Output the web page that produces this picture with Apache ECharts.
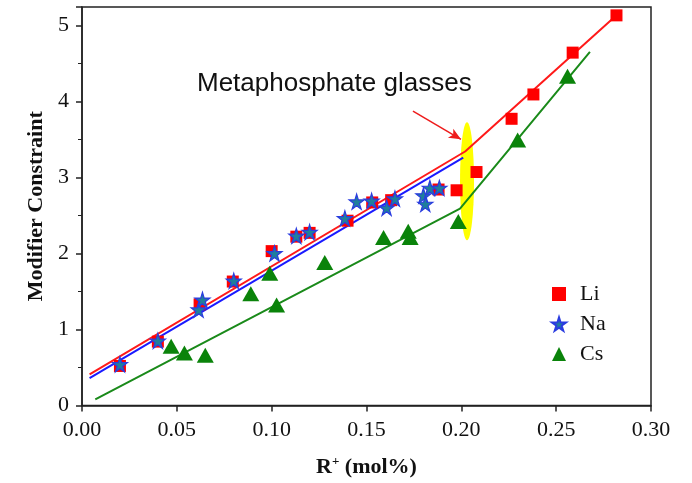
<!DOCTYPE html>
<html>
<head>
<meta charset="utf-8">
<script src="https://cdn.jsdelivr.net/npm/echarts@6/dist/echarts.min.js"></script>
<style>html,body{margin:0;padding:0;background:#fff}#c{width:692px;height:483px}</style>
</head>
<body>
<div id="c"></div>
<script>
// ---- data ----
var xTicks = [0, 0.05, 0.10, 0.15, 0.20, 0.25, 0.30];
var yTicks = [0, 1, 2, 3, 4, 5];

var liX = [0.020, 0.040, 0.062, 0.0795, 0.100, 0.113, 0.120, 0.140, 0.153, 0.163, 0.188, 0.1975, 0.208, 0.2265, 0.238, 0.2587, 0.2818];
var liY = [0.52, 0.84, 1.33, 1.63, 2.03, 2.22, 2.27, 2.43, 2.67, 2.70, 2.84, 2.83, 3.07, 3.77, 4.09, 4.64, 5.13];

var naX = [0.020, 0.040, 0.0615, 0.0635, 0.080, 0.1015, 0.113, 0.120, 0.1386, 0.1448, 0.1527, 0.1606, 0.165, 0.180, 0.181, 0.1834, 0.1884];
var naY = [0.54, 0.85, 1.26, 1.39, 1.64, 2.00, 2.23, 2.28, 2.46, 2.68, 2.69, 2.60, 2.72, 2.76, 2.65, 2.86, 2.86];

var csX = [0.047, 0.054, 0.065, 0.089, 0.099, 0.1026, 0.128, 0.159, 0.172, 0.173, 0.1984, 0.2297, 0.256];
var csY = [0.78, 0.69, 0.66, 1.47, 1.74, 1.32, 1.88, 2.21, 2.29, 2.21, 2.42, 3.49, 4.33];

// fitted lines
var liFitX = [0.004, 0.202, 0.2818];
var liFitY = [0.41, 3.34, 5.13];
var naFitX = [0.004, 0.201];
var naFitY = [0.36, 3.26];
var csFitX = [0.007, 0.1993, 0.2678];
var csFitY = [0.08, 2.59, 4.65];

// annotation
var ellipseX = [0.203];
var ellipseY = [2.95];
var arrowFrom = [0.1745, 3.87];
var arrowTo = [0.1998, 3.50];
var annotationText = 'Metaphosphate glasses';

function zip(a, b) { return a.map(function (v, i) { return [v, b[i]]; }); }

var STAR = 'path://M50,0 L61,35 L98,35 L68,57 L79,91 L50,70 L21,91 L32,57 L2,35 L39,35 Z';
var serif = '"Liberation Serif","Times New Roman",serif';

var chart = echarts.init(document.getElementById('c'), null, {renderer: 'canvas'});
chart.setOption({
  animation: false,
  backgroundColor: '#fff',
  grid: {left: 82, right: 41, top: 7, bottom: 77, show: true, borderColor: '#222', borderWidth: 1.5, backgroundColor: 'transparent'},
  legend: {
    orient: 'vertical', left: 546, top: 278, itemGap: 8, itemWidth: 14, itemHeight: 14,
    textStyle: {fontFamily: serif, fontSize: 22, color: '#111', padding: [0, 0, 0, 9]},
    data: [
      {name: 'Li', icon: 'rect', itemStyle: {color: '#ff0000', opacity: 1}},
      {name: 'Na', icon: STAR, itemStyle: {opacity: 1}},
      {name: 'Cs', icon: 'triangle', itemStyle: {opacity: 1}}
    ]
  },
  xAxis: {
    type: 'value', min: xTicks[0], max: xTicks[xTicks.length - 1], interval: 0.05,
    name: 'R{sup|+} (mol%)', nameLocation: 'middle', nameGap: 50,
    nameTextStyle: {fontFamily: serif, fontSize: 22, fontWeight: 'bold', color: '#111',
      rich: {sup: {fontFamily: serif, fontSize: 13, fontWeight: 'bold', color: '#111', verticalAlign: 'top', padding: [0, 0, 10, 0]}}},
    axisLine: {lineStyle: {color: '#222', width: 1.5}},
    axisTick: {inside: false, length: 6, lineStyle: {color: '#222', width: 1.5}},
    axisLabel: {fontFamily: serif, fontSize: 22, color: '#111', margin: 14, formatter: function (v) { return v.toFixed(2); }},
    splitLine: {show: false}
  },
  yAxis: {
    type: 'value', min: 0, max: 5.24, interval: 1,
    name: 'Modifier Constraint', nameLocation: 'middle', nameGap: 35,
    nameTextStyle: {fontFamily: serif, fontSize: 22, fontWeight: 'bold', color: '#111'},
    axisLine: {lineStyle: {color: '#222', width: 1.5}},
    axisTick: {inside: false, length: 6, lineStyle: {color: '#222', width: 1.5}},
    minorTick: {show: true, splitNumber: 2, length: 4, lineStyle: {color: '#222', width: 1}},
    axisLabel: {fontFamily: serif, fontSize: 22, color: '#111', margin: 13, showMaxLabel: false,
      formatter: function (v) { return yTicks.indexOf(v) >= 0 ? String(v) : ''; }},
    splitLine: {show: false}
  },
  series: [
    {name: 'ellipse', type: 'scatter', data: zip(ellipseX, ellipseY), symbol: 'circle', symbolSize: [14, 118],
      itemStyle: {color: '#ffff00', opacity: 1}, silent: true, z: 1},
    {name: 'LiFit', type: 'line', data: zip(liFitX, liFitY), showSymbol: false, symbol: 'none',
      lineStyle: {color: '#ff1a1a', width: 2}, z: 2},
    {name: 'NaFit', type: 'line', data: zip(naFitX, naFitY), showSymbol: false, symbol: 'none',
      lineStyle: {color: '#1a1aff', width: 2}, z: 2},
    {name: 'CsFit', type: 'line', data: zip(csFitX, csFitY), showSymbol: false, symbol: 'none',
      lineStyle: {color: '#1a8a1a', width: 2}, z: 2,
      markLine: {silent: true, symbol: ['none', 'arrow'], symbolSize: [8, 12],
        lineStyle: {color: '#ee1c1c', width: 1.5, type: 'solid'}, label: {show: false},
        data: [[{coord: arrowFrom}, {coord: arrowTo}]]}},
    {name: 'Li', type: 'scatter', data: zip(liX, liY), symbol: 'rect', symbolSize: 12,
      itemStyle: {color: '#ff0000', opacity: 1}, z: 3},
    {name: 'Na', type: 'scatter', data: zip(naX, naY), symbol: STAR, symbolSize: 15,
      itemStyle: {color: '#1f7f9c', borderColor: '#2a3ce0', borderWidth: 1.2, opacity: 1}, z: 4},
    {name: 'Cs', type: 'scatter', data: zip(csX, csY), symbol: 'triangle', symbolSize: [17, 15],
      itemStyle: {color: '#0a830a', opacity: 1}, z: 3}
  ],
  graphic: [
    {type: 'text', left: 197, top: 71, z: 10,
      style: {text: annotationText, fontFamily: '"Liberation Sans",Arial,sans-serif', fontSize: 26, fill: '#111'}}
  ]
});
</script>
</body>
</html>
